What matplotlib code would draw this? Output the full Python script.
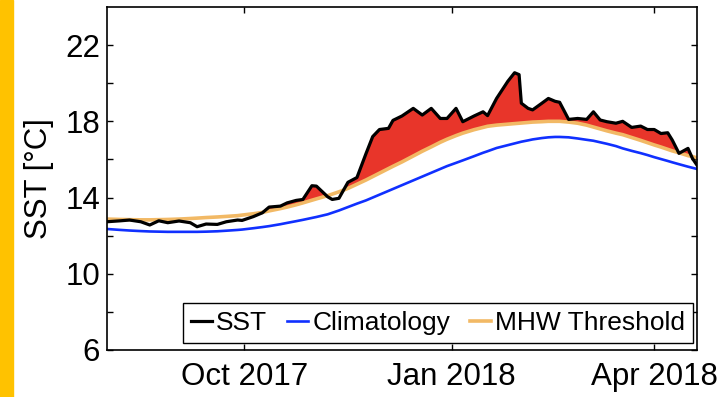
import datetime as dt
import matplotlib
matplotlib.use("Agg")
import matplotlib.pyplot as plt
from matplotlib.patches import Rectangle

plt.rcParams['font.family'] = ['Liberation Sans', 'DejaVu Sans']

start = dt.datetime(2017, 8, 1)
end = dt.datetime(2018, 4, 20)

# days after 1 Aug 2017
day = [0, 6, 10, 15, 19, 23, 27, 32, 37, 40, 44, 49, 53, 58, 60, 65, 69, 72, 77, 80,
       84, 87, 91, 93, 98, 100, 103, 107, 111, 115, 118, 121, 125, 127, 131, 136, 140, 144, 148, 151,
       155, 158, 163, 167, 169, 173, 178, 181, 183, 184, 187, 189, 193, 196, 199, 201, 205, 209, 213, 216,
       219, 222, 226, 229, 233, 237, 240, 243, 246, 249, 251, 254, 258, 260, 262]

sst = [12.73, 12.78, 12.82, 12.73, 12.56, 12.78, 12.68, 12.77, 12.68, 12.47, 12.61, 12.59, 12.73, 12.82, 12.80, 13.0, 13.2, 13.5, 13.55, 13.72,
       13.85, 13.9, 14.62, 14.6, 14.04, 13.9, 13.96, 14.8, 15.05, 16.3, 17.2, 17.57, 17.63, 18.05, 18.28, 18.68, 18.33, 18.68, 18.15, 18.15,
       18.68, 17.98, 18.28, 18.5, 18.3, 19.2, 20.1, 20.55, 20.45, 18.95, 18.68, 18.6, 18.94, 19.2, 19.05, 19.0, 18.1, 18.15, 18.1, 18.5,
       18.07, 17.98, 17.9, 18.0, 17.68, 17.75, 17.57, 17.57, 17.36, 17.4, 17.02, 16.32, 16.58, 16.05, 15.7]

thresh = [12.87, 12.85, 12.84, 12.83, 12.83, 12.84, 12.85, 12.87, 12.9, 12.92, 12.95, 12.98, 13.01, 13.05, 13.08, 13.15, 13.22, 13.3, 13.42, 13.5,
          13.62, 13.72, 13.86, 13.93, 14.1, 14.18, 14.3, 14.48, 14.7, 14.92, 15.1, 15.28, 15.52, 15.64, 15.87, 16.18, 16.43, 16.66, 16.9, 17.06,
          17.25, 17.38, 17.56, 17.68, 17.74, 17.8, 17.85, 17.88, 17.9, 17.91, 17.94, 17.96, 17.98, 18.0, 18.0, 18.0, 17.96, 17.9, 17.8, 17.7,
          17.6, 17.5, 17.38, 17.3, 17.15, 17.0, 16.88, 16.76, 16.65, 16.53, 16.45, 16.35, 16.2, 16.15, 16.08]

clim = [12.35, 12.3, 12.27, 12.24, 12.22, 12.21, 12.2, 12.2, 12.2, 12.2, 12.21, 12.23, 12.26, 12.3, 12.32, 12.39, 12.45, 12.5, 12.6, 12.67,
        12.76, 12.83, 12.93, 12.98, 13.12, 13.2, 13.32, 13.5, 13.68, 13.85, 14.0, 14.15, 14.35, 14.45, 14.65, 14.9, 15.1, 15.3, 15.5, 15.65,
        15.82, 15.95, 16.17, 16.35, 16.43, 16.6, 16.75, 16.84, 16.9, 16.93, 17.0, 17.05, 17.12, 17.16, 17.18, 17.18, 17.16, 17.1, 17.03, 16.98,
        16.9, 16.82, 16.7, 16.58, 16.45, 16.33, 16.23, 16.12, 16.02, 15.92, 15.85, 15.75, 15.62, 15.56, 15.5]

dates = [start + dt.timedelta(days=d) for d in day]

xtick_dates = [dt.datetime(2017, 10, 1), dt.datetime(2018, 1, 1), dt.datetime(2018, 4, 1)]
xtick_labels = ['Oct 2017', 'Jan 2018', 'Apr 2018']
ytick_major = [6, 10, 14, 18, 22]
ytick_minor = [8, 12, 16, 20]

fig = plt.figure(figsize=(7.17, 3.97), dpi=100)
fig.patches.append(Rectangle((0, 0), 0.018, 1, transform=fig.transFigure,
                             color='#FFC200', zorder=0))
ax = fig.add_axes([0.1492, 0.1184, 0.8229, 0.864])

ax.fill_between(dates, thresh, sst, where=[s > t for s, t in zip(sst, thresh)],
                interpolate=True, color='#E8352A', linewidth=0)
ax.plot(dates, clim, color='#1030FF', lw=1.9, label='Climatology')
ax.plot(dates, thresh, color='#F2B965', lw=2.6, label='MHW Threshold')
ax.plot(dates, sst, color='black', lw=2.3, label='SST')

ax.set_xlim(start, end)
ax.set_ylim(6, 24)
ax.set_xticks(xtick_dates)
ax.set_xticklabels(xtick_labels)
ax.set_yticks(ytick_major)
ax.set_yticks(ytick_minor, minor=True)
ax.tick_params(which='both', direction='in', length=4.5, width=1,
               top=True, right=True, labelsize=22.5, pad=5)
ax.tick_params(axis='x', pad=9)
for s in ax.spines.values():
    s.set_linewidth(1.2)

ax.set_ylabel('SST [°C]', fontsize=22.5)
ax.yaxis.set_label_coords(-0.09, 0.5)

h, l = ax.get_legend_handles_labels()
order = [2, 0, 1]
leg = ax.legend([h[i] for i in order], [l[i] for i in order], ncol=3,
                loc='lower right', bbox_to_anchor=(0.993, 0.02), borderaxespad=0,
                fontsize=19, handlelength=0.8, handletextpad=0.15, columnspacing=0.75,
                borderpad=0.3, fancybox=False, framealpha=1, edgecolor='black')
leg.get_frame().set_linewidth(1.0)

fig.savefig('out.png', dpi=100)
